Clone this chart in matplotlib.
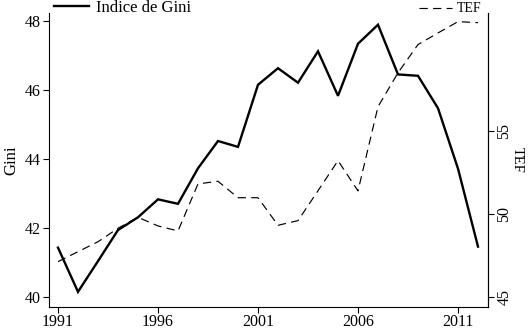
import numpy as np
import matplotlib
matplotlib.use("Agg")
import matplotlib.pyplot as plt
from matplotlib.lines import Line2D

years = list(range(1991, 2013))
gini = [41.43, 40.15, 41.04, 41.94, 42.31, 42.83, 42.70, 43.73, 44.52, 44.35, 46.15,
        46.63, 46.21, 47.12, 45.83, 47.34, 47.89, 46.45, 46.41, 45.47, 43.72, 41.46]
tef = [47.13, 47.73, 48.33, 49.14, 49.80, 49.28, 48.98, 51.81, 51.97, 50.98, 50.98,
       49.32, 49.60, 51.40, 53.21, 51.39, 56.46, 58.50, 60.20, 60.90, 61.58, 61.52]
xticks = [1991, 1996, 2001, 2006, 2011]
gini_ticks = [40, 42, 44, 46, 48]
tef_ticks = [45, 50, 55]

plt.rcParams['font.family'] = ['Liberation Serif', 'DejaVu Serif']
fs = 11.5

fig = plt.figure(figsize=(5.28, 3.30), dpi=100)
ax1 = fig.add_axes([49/528, 1 - 307/330, (488-49)/528, (307-13)/330])
ax2 = ax1.twinx()

l1, = ax1.plot(years, gini, color='black', lw=1.7, solid_joinstyle='miter')
l2, = ax2.plot(years, tef, color='black', lw=0.85, linestyle=(0, (7, 4.5)))

ax1.set_xlim(1990.55, 2012.5)
ax1.set_ylim(39.71, 48.23)
ax2.set_ylim(44.4, 62.1)

ax1.set_xticks(xticks)
ax1.set_yticks(gini_ticks)
ax2.set_yticks(tef_ticks)

for a in (ax1, ax2):
    a.spines['top'].set_visible(False)
    for s in a.spines.values():
        s.set_linewidth(0.8)
ax2.spines['left'].set_visible(False)
ax2.spines['bottom'].set_visible(False)

ax1.tick_params(axis='both', labelsize=fs, length=4, width=0.8, pad=2)
ax1.tick_params(axis='x', pad=1)
ax2.tick_params(axis='y', labelsize=fs, length=4, width=0.8, pad=2, labelrotation=90)
for t in ax2.get_yticklabels():
    t.set_verticalalignment('center')

ax1.set_ylabel("Gini", fontsize=fs + 0.5, labelpad=4)
ax2.set_ylabel("TEF", fontsize=fs - 1, rotation=270, labelpad=8)

leg1 = fig.legend(handles=[Line2D([], [], color='black', lw=1.7)], labels=["Indice de Gini"],
                  loc='center left', bbox_to_anchor=(54/528, 1 - 8/330), frameon=False,
                  fontsize=fs + 0.5, borderpad=0, borderaxespad=0, handlelength=2.1,
                  handletextpad=0.45)
leg2 = fig.legend(handles=[Line2D([], [], color='black', lw=0.85, linestyle=(0, (7, 4.5)))],
                  labels=["TEF"], loc='center right', bbox_to_anchor=(481/528, 1 - 9/330),
                  frameon=False, fontsize=fs - 1.5, borderpad=0, borderaxespad=0,
                  handlelength=2.4, handletextpad=0.3)

fig.savefig("out.png", dpi=100)
